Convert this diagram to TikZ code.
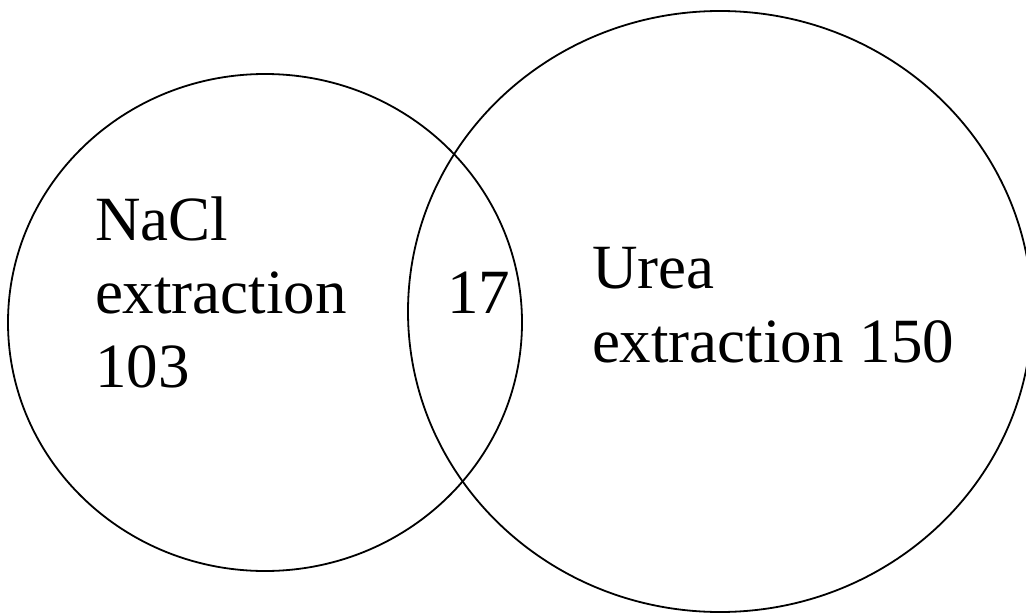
\documentclass[tikz,border=0pt]{standalone}
\usepackage{fontspec}
\setmainfont{Liberation Serif}
\begin{document}
\begin{tikzpicture}[x=1pt, y=-1pt,
  setline/.style={draw=black, line width=1.8pt},
  label/.style={inner sep=0pt, outer sep=0pt, anchor=base west, align=left,
    font=\fontsize{63}{73.5}\selectfont}]
  \useasboundingbox (0,0) rectangle (1026,613);
  \clip (0,0) rectangle (1026,613);
  % the two sets
  \draw[setline] (265,322.5) ellipse [x radius=257, y radius=248.5];
  \draw[setline] (720,311.5) ellipse [x radius=312, y radius=300.5];
  % labels (base anchor sits on the last line)
  \node[label] (nacl) at (95,387) {NaCl\\extraction\\103};
  \node[label] (both) at (447,313) {17};
  \node[label] (urea) at (592,362) {Urea\\extraction 150};
\end{tikzpicture}
\end{document}
